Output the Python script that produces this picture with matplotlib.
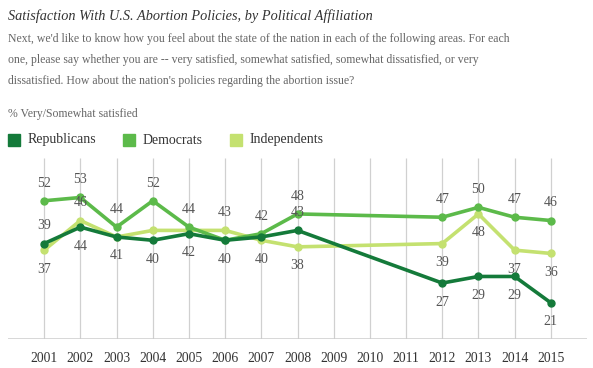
import numpy as np
import matplotlib.pyplot as plt

# Datos (2009-2011 sin encuesta)
years = [2001, 2002, 2003, 2004, 2005, 2006, 2007, 2008, 2012, 2013, 2014, 2015]
republicans = [39, 44, 41, 40, 42, 40, 41, 43, 27, 29, 29, 21]
democrats = [52, 53, 44, 52, 44, 40, 42, 48, 47, 50, 47, 46]
independents = [37, 46, 41, 43, 43, 43, 40, 38, 39, 48, 37, 36]
tick_years = list(range(2001, 2016))

# qué etiquetas se muestran: 1 = arriba, -1 = abajo, 0 = sin etiqueta
rep_pos = [1, -1, -1, -1, -1, 0, 0, 1, -1, -1, -1, -1]
dem_pos = [1, 1, 1, 1, 1, -1, 1, 1, 1, 1, 1, 1]
ind_pos = [-1, 1, 0, 0, 0, 1, -1, -1, -1, -1, -1, -1]

colors = {'Republicans': '#147a3a', 'Democrats': '#5cba4a', 'Independents': '#c4e170'}
serif = ['Liberation Serif', 'DejaVu Serif']
plt.rcParams['font.family'] = serif

W, H = 593, 368
fig = plt.figure(figsize=(W / 100, H / 100), dpi=100)
ax = fig.add_axes([8 / W, (H - 339) / H, (587 - 8) / W, (339 - 158) / H])
ax.set_xlim(2000, 2016)
ax.set_ylim(10, 65)
ax.axis('off')

# rejilla vertical y línea base
ax.vlines(tick_years, 10, 65, color='#d0d0d0', lw=0.9, zorder=0)
ax.axhline(10, color='#cccccc', lw=1.8, zorder=1)

series = [('Republicans', republicans, rep_pos),
          ('Democrats', democrats, dem_pos),
          ('Independents', independents, ind_pos)]
for name, vals, pos in reversed(series):
    ax.plot(years, vals, color=colors[name], lw=2.6, marker='o', ms=5,
            solid_joinstyle='round', zorder=3)

for name, vals, pos in series:
    for x, v, p in zip(years, vals, pos):
        if p == 0:
            continue
        off = 8 if p > 0 else -9
        ax.annotate(str(v), (x, v), xytext=(0, off), textcoords='offset points',
                    ha='center', va='bottom' if p > 0 else 'top',
                    fontsize=10, color='#555555', zorder=5)

# etiquetas de año bajo la línea base
for yr in tick_years:
    ax.annotate(str(yr), (yr, 10), xytext=(0, -14), textcoords='offset points',
                ha='center', va='center', fontsize=9.8, color='#333333')

# títulos
fig.text(8 / W, 1 - 16 / H, 'Satisfaction With U.S. Abortion Policies, by Political Affiliation',
         fontsize=10.3, style='italic', color='#333333', va='center')
sub = ["Next, we'd like to know how you feel about the state of the nation in each of the following areas. For each",
       "one, please say whether you are -- very satisfied, somewhat satisfied, somewhat dissatisfied, or very",
       "dissatisfied. How about the nation's policies regarding the abortion issue?"]
for i, line in enumerate(sub):
    fig.text(8 / W, 1 - (39 + 21 * i) / H, line, fontsize=8.5, color='#666666', va='center')
fig.text(8 / W, 1 - 114 / H, '% Very/Somewhat satisfied', fontsize=8.5, color='#666666', va='center')

# leyenda manual
leg = [('Republicans', 8), ('Democrats', 123), ('Independents', 230)]
for name, x0 in leg:
    fig.patches.append(plt.Rectangle((x0 / W, 1 - 146 / H), 12 / W, 12 / H,
                                     transform=fig.transFigure, color=colors[name]))
    fig.text((x0 + 20) / W, 1 - 140 / H, name, fontsize=10, color='#333333', va='center')

fig.savefig('out.png', dpi=100, facecolor='white')
